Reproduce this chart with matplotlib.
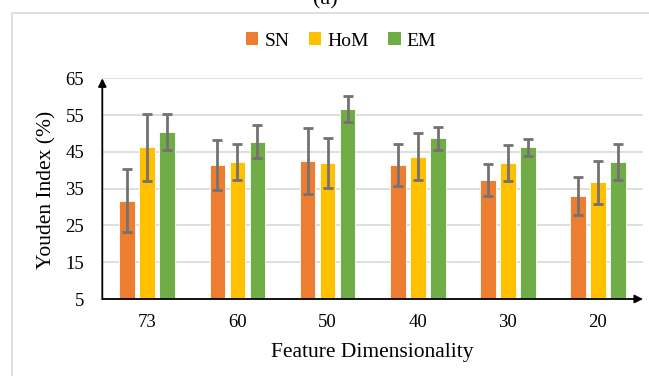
import matplotlib
matplotlib.use("Agg")
import matplotlib.pyplot as plt
import numpy as np
from matplotlib.patches import Rectangle, Patch

categories = ["73", "60", "50", "40", "30", "20"]
series_names = ["SN", "HoM", "EM"]
sn_values = [31.7, 41.4, 42.5, 41.4, 37.3, 33.0]
sn_errors = [8.6, 6.8, 9.0, 5.7, 4.4, 5.2]
hom_values = [46.3, 42.3, 42.0, 43.7, 42.0, 36.7]
hom_errors = [9.1, 4.9, 6.7, 6.4, 4.9, 5.9]
em_values = [50.4, 47.8, 56.7, 48.7, 46.2, 42.3]
em_errors = [5.0, 4.5, 3.5, 3.1, 2.2, 4.85]
y_ticks = [5, 15, 25, 35, 45, 55, 65]

colors = ["#ED7D31", "#FFC000", "#70AD47"]
W, H = 649, 376
fig = plt.figure(figsize=(W / 100, H / 100), dpi=100)
plt.rcParams['font.family'] = ['Liberation Serif', 'DejaVu Serif']

# outer border
fig.patches.append(Rectangle((12 / W, -0.05), 1.2, 1 - 13 / H + 0.05, transform=fig.transFigure,
                             fill=False, edgecolor="#D9D9D9", linewidth=1.2))

ax = fig.add_axes([102.3 / W, 1 - 299 / H, (643 - 102.3) / W, (299 - 78.3) / H])
x = np.arange(len(categories))
width = 0.175
step = 0.222
vals = [sn_values, hom_values, em_values]
errs = [sn_errors, hom_errors, em_errors]
for i in range(3):
    ax.bar(x + (i - 1) * step, np.array(vals[i]) - 5, width, bottom=5, color=colors[i],
           edgecolor="#FFFFFF", linewidth=0.6, zorder=3)
    ax.errorbar(x + (i - 1) * step, vals[i], yerr=errs[i], fmt="none", ecolor="#767171",
                elinewidth=2.0, capsize=3.4, capthick=2.0, zorder=4)

ax.set_xlim(-0.5, 5.5)
ax.set_ylim(5, 65)
ax.set_yticks(y_ticks)
ax.set_xticks(x)
ax.set_xticklabels(categories)
ax.tick_params(axis="both", length=0, labelsize=13.5)
ax.tick_params(axis="y", pad=13)
ax.tick_params(axis="x", pad=11)
ax.grid(axis="y", color="#D9D9D9", linewidth=1.2, zorder=0)
for s in ax.spines.values():
    s.set_visible(False)

# arrowed axes
ax.annotate("", xy=(0, 1.0), xytext=(0, 0), xycoords="axes fraction",
            arrowprops=dict(arrowstyle="-|>", color="black", lw=1.3, mutation_scale=12,
                            shrinkA=0, shrinkB=0), zorder=6)
ax.annotate("", xy=(1.0, 0), xytext=(0, 0), xycoords="axes fraction",
            arrowprops=dict(arrowstyle="-|>", color="black", lw=1.3, mutation_scale=12,
                            shrinkA=0, shrinkB=0), zorder=6)

fig.text(372 / W, 1 - 352 / H, "Feature Dimensionality", ha="center", va="center", fontsize=15.5)
fig.text(47 / W, 1 - 190 / H, "Youden Index (%)", ha="center", va="center", rotation=90, fontsize=15.5)
fig.text(325 / W, 1 - 0 / H, "(a)", ha="center", va="center", fontsize=16)

handles = [Patch(facecolor=c, edgecolor="none") for c in colors]
fig.legend(handles, series_names, loc="center", bbox_to_anchor=(341 / W, 1 - 41 / H), ncol=3,
           frameon=False, fontsize=14, handlelength=0.65, handleheight=0.65, handletextpad=0.3,
           columnspacing=1.0)

fig.savefig("out.png", dpi=100)
